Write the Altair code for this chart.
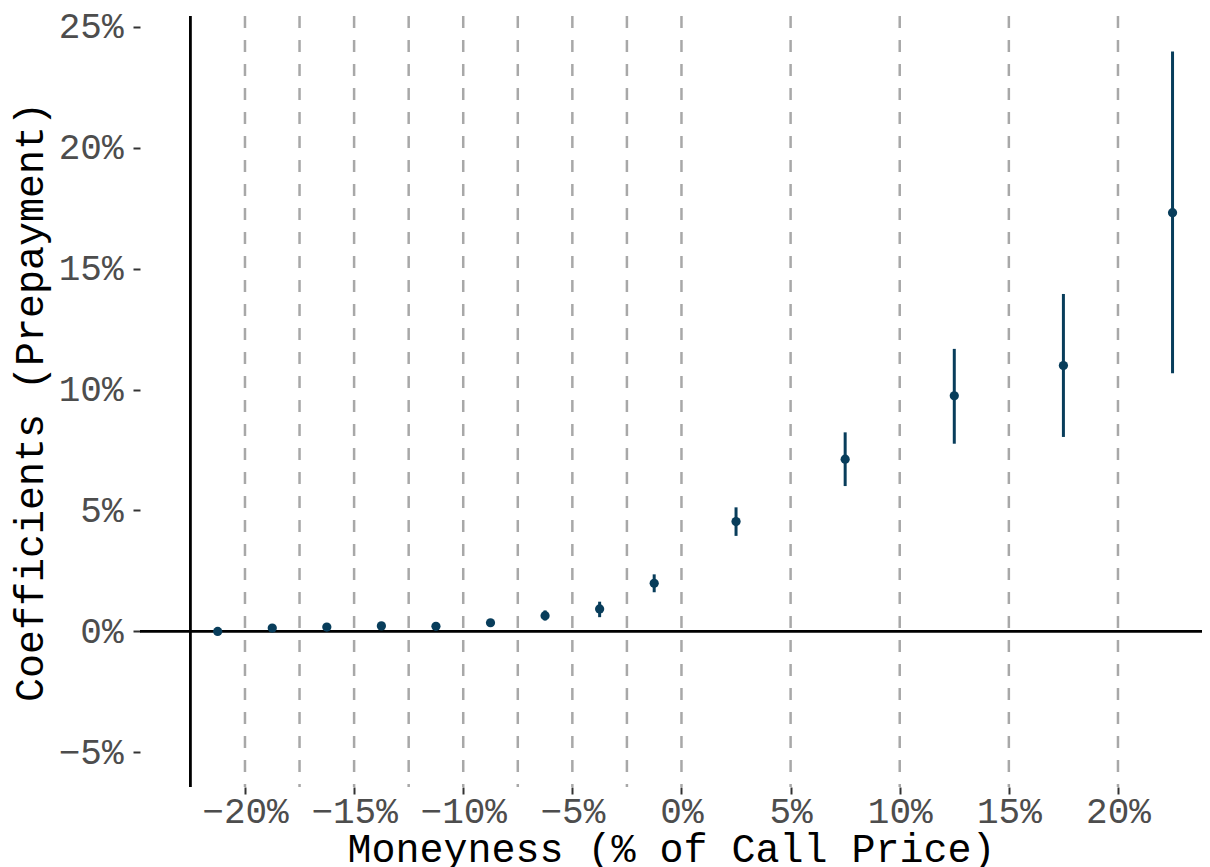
import altair as alt
import pandas as pd

# Data (values in percent)
moneyness = [-21.25, -18.75, -16.25, -13.75, -11.25, -8.75, -6.25, -3.75, -1.25, 2.5, 7.5, 12.5, 17.5, 22.5]
coef = [0.0, 0.14, 0.18, 0.23, 0.21, 0.36, 0.65, 0.93, 1.99, 4.54, 7.12, 9.74, 10.99, 17.31]
lower = [-0.05, 0.08, 0.12, 0.16, 0.14, 0.27, 0.45, 0.59, 1.62, 3.95, 6.01, 7.76, 8.04, 10.67]
upper = [0.05, 0.20, 0.24, 0.30, 0.28, 0.45, 0.87, 1.23, 2.36, 5.13, 8.23, 11.68, 13.95, 23.97]

dashed_x = [-20, -17.5, -15, -12.5, -10, -7.5, -5, -2.5, 0, 5, 10, 15, 20]
solid_vx = [-22.5]
solid_hy = [0]

x_ticks = [-20, -15, -10, -5, 0, 5, 10, 15, 20]
y_ticks = [-5, 0, 5, 10, 15, 20, 25]

FONT = "Liberation Mono"
PT_COLOR = "#083d5b"

df = pd.DataFrame({"m": moneyness, "c": coef, "lo": lower, "hi": upper})
dash_df = pd.DataFrame({"x": dashed_x})
vdf = pd.DataFrame({"x": solid_vx})
hdf = pd.DataFrame({"y": solid_hy})

xscale = alt.Scale(domain=[-24.81, 23.85], nice=False, zero=False)
yscale = alt.Scale(domain=[-6.43, 25.44], nice=False, zero=False)

label_expr = "format(datum.value, 'd') + '%'"

xaxis = alt.Axis(
    values=x_ticks, labelExpr=label_expr, grid=False, domain=False,
    tickColor="#333333", tickSize=7, tickWidth=2, labelColor="#4d4d4d",
    labelFont=FONT, labelFontSize=36, labelPadding=0,
    title="Moneyness (% of Call Price)", titleFont=FONT, titleFontSize=40,
    titleFontWeight="normal", titleColor="#000000", titlePadding=0,
)
yaxis = alt.Axis(
    values=y_ticks, labelExpr=label_expr, grid=False, domain=False,
    tickColor="#333333", tickSize=7, tickWidth=2, labelColor="#4d4d4d",
    labelFont=FONT, labelFontSize=36, labelPadding=10,
    title="Coefficients (Prepayment)", titleFont=FONT, titleFontSize=40,
    titleFontWeight="normal", titleColor="#000000", titlePadding=8,
)

hline = alt.Chart(hdf).mark_rule(color="black", strokeWidth=2.8).encode(
    y=alt.Y("y:Q", scale=yscale, axis=yaxis)
)
vline = alt.Chart(vdf).mark_rule(color="black", strokeWidth=2.8).encode(
    x=alt.X("x:Q", scale=xscale, axis=xaxis)
)
dashed = alt.Chart(dash_df).mark_rule(
    color="#a8a8a8", strokeWidth=2.5, strokeDash=[12, 12]
).encode(x=alt.X("x:Q", scale=xscale, axis=xaxis))

errs = alt.Chart(df).mark_rule(color=PT_COLOR, strokeWidth=3).encode(
    x=alt.X("m:Q", scale=xscale, axis=xaxis),
    y=alt.Y("lo:Q", scale=yscale, axis=yaxis),
    y2="hi:Q",
)
pts = alt.Chart(df).mark_circle(color=PT_COLOR, size=85, opacity=1).encode(
    x=alt.X("m:Q", scale=xscale, axis=xaxis),
    y=alt.Y("c:Q", scale=yscale, axis=yaxis),
)

chart = alt.layer(hline, vline, dashed, errs, pts).properties(
    width=1062, height=771,
    autosize=alt.AutoSizeParams(type="none"),
    padding={"left": 132, "top": 8, "right": 0, "bottom": 80},
).configure_view(stroke=None)

chart.save("out.html", embed_options={"renderer": "svg", "actions": False})
